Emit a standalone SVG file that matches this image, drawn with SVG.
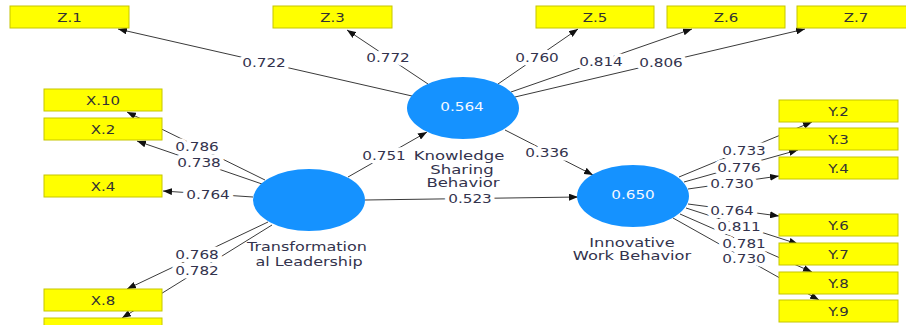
<svg xmlns="http://www.w3.org/2000/svg" width="906" height="325" viewBox="0 0 906 325">
<style>
.bg{fill:#fff}
.box{fill:#ffff00;stroke:#c6c600;stroke-width:1}
.lv{fill:#1592ff}
.ln{stroke:#3a3a3a;stroke-width:1;fill:none;marker-end:url(#ah)}
text{font-family:"DejaVu Sans","Liberation Sans",sans-serif;font-size:12.5px;text-anchor:middle}
.bt{fill:#333333}
.num{fill:#33334d;stroke:#fff;stroke-width:7;paint-order:stroke;stroke-linejoin:round}
.nl{fill:#33334d}
.ct{fill:#f4f8ff}
</style>
<defs>
<marker id="ah" viewBox="0 0 10 10" refX="10" refY="5" markerWidth="9" markerHeight="7" markerUnits="userSpaceOnUse" orient="auto" preserveAspectRatio="none">
<path d="M0,0 L10,5 L0,10 z" fill="#111"/>
</marker>
</defs>
<rect class="bg" x="0" y="0" width="906" height="325"/>

<g id="connectors">
<line class="ln" x1="412" y1="96" x2="118" y2="29"/>
<line class="ln" x1="428" y1="84" x2="347" y2="30"/>
<line class="ln" x1="498" y1="84" x2="578" y2="29"/>
<line class="ln" x1="511" y1="92" x2="692" y2="29"/>
<line class="ln" x1="515" y1="97" x2="805" y2="29"/>
<line class="ln" x1="265" y1="180" x2="127" y2="112"/>
<line class="ln" x1="262" y1="184" x2="137" y2="141"/>
<line class="ln" x1="253" y1="197" x2="163" y2="191"/>
<line class="ln" x1="268" y1="222" x2="127" y2="289"/>
<line class="ln" x1="272" y1="225" x2="122" y2="318"/>
<line class="ln" x1="348" y1="177" x2="427" y2="132"/>
<line class="ln" x1="365" y1="200" x2="578" y2="197"/>
<line class="ln" x1="505" y1="130" x2="593" y2="175"/>
<line class="ln" x1="679" y1="177" x2="812" y2="122"/>
<line class="ln" x1="684" y1="182" x2="798" y2="150"/>
<line class="ln" x1="688" y1="189" x2="779" y2="176"/>
<line class="ln" x1="688" y1="204" x2="779" y2="216"/>
<line class="ln" x1="686" y1="208" x2="798" y2="244"/>
<line class="ln" x1="680" y1="214" x2="812" y2="272"/>
<line class="ln" x1="673" y1="218" x2="819" y2="300"/>
<g id="loadings">
<text class="num" transform="matrix(1.22 0 0 1 264 66.5)">0.722</text>
<text class="num" transform="matrix(1.22 0 0 1 388 61.5)">0.772</text>
<text class="num" transform="matrix(1.22 0 0 1 537 61.5)">0.760</text>
<text class="num" transform="matrix(1.22 0 0 1 601 65.5)">0.814</text>
<text class="num" transform="matrix(1.22 0 0 1 661 66.5)">0.806</text>
<text class="num" transform="matrix(1.22 0 0 1 197 150.5)">0.786</text>
<text class="num" transform="matrix(1.22 0 0 1 199 166.5)">0.738</text>
<text class="num" transform="matrix(1.22 0 0 1 208 198.5)">0.764</text>
<text class="num" transform="matrix(1.22 0 0 1 197 258.5)">0.768</text>
<text class="num" transform="matrix(1.22 0 0 1 197 274.5)">0.782</text>
<text class="num" transform="matrix(1.22 0 0 1 384 159.5)">0.751</text>
<text class="num" transform="matrix(1.22 0 0 1 470 202.5)">0.523</text>
<text class="num" transform="matrix(1.22 0 0 1 547 156.5)">0.336</text>
<text class="num" transform="matrix(1.22 0 0 1 744 154.5)">0.733</text>
<text class="num" transform="matrix(1.22 0 0 1 739 171.5)">0.776</text>
<text class="num" transform="matrix(1.22 0 0 1 732 187.5)">0.730</text>
<text class="num" transform="matrix(1.22 0 0 1 732 214.5)">0.764</text>
<text class="num" transform="matrix(1.22 0 0 1 739 230.5)">0.811</text>
<text class="num" transform="matrix(1.22 0 0 1 744 247.5)">0.781</text>
<text class="num" transform="matrix(1.22 0 0 1 744 262.5)">0.730</text>
</g>
</g>

<g id="Z1"><rect class="box" x="10" y="6" width="119" height="22"/><text class="bt" transform="matrix(1.2 0 0 1 69.5 21.5)">Z.1</text></g>
<g id="Z3"><rect class="box" x="273" y="6" width="119" height="22"/><text class="bt" transform="matrix(1.2 0 0 1 332.5 21.5)">Z.3</text></g>
<g id="Z5"><rect class="box" x="536" y="6" width="118" height="22"/><text class="bt" transform="matrix(1.2 0 0 1 595 21.5)">Z.5</text></g>
<g id="Z6"><rect class="box" x="667" y="6" width="118" height="22"/><text class="bt" transform="matrix(1.2 0 0 1 726 21.5)">Z.6</text></g>
<g id="Z7"><rect class="box" x="797" y="6" width="118" height="22"/><text class="bt" transform="matrix(1.2 0 0 1 856 21.5)">Z.7</text></g>

<g id="X10"><rect class="box" x="44" y="89" width="118" height="22"/><text class="bt" transform="matrix(1.2 0 0 1 103 104.5)">X.10</text></g>
<g id="X2"><rect class="box" x="44" y="118" width="118" height="22"/><text class="bt" transform="matrix(1.2 0 0 1 103 133.5)">X.2</text></g>
<g id="X4"><rect class="box" x="44" y="175" width="118" height="22"/><text class="bt" transform="matrix(1.2 0 0 1 103 190.5)">X.4</text></g>
<g id="X8"><rect class="box" x="44" y="289" width="118" height="22"/><text class="bt" transform="matrix(1.2 0 0 1 103 304.5)">X.8</text></g>
<g id="X9"><rect class="box" x="44" y="318" width="118" height="22"/></g>

<g id="Y2"><rect class="box" x="779" y="100" width="119" height="22"/><text class="bt" transform="matrix(1.2 0 0 1 838.5 115.5)">Y.2</text></g>
<g id="Y3"><rect class="box" x="779" y="128" width="119" height="22"/><text class="bt" transform="matrix(1.2 0 0 1 838.5 143.5)">Y.3</text></g>
<g id="Y4"><rect class="box" x="779" y="157" width="119" height="22"/><text class="bt" transform="matrix(1.2 0 0 1 838.5 172.5)">Y.4</text></g>
<g id="Y6"><rect class="box" x="779" y="214" width="119" height="22"/><text class="bt" transform="matrix(1.2 0 0 1 838.5 229.5)">Y.6</text></g>
<g id="Y7"><rect class="box" x="779" y="243" width="119" height="22"/><text class="bt" transform="matrix(1.2 0 0 1 838.5 258.5)">Y.7</text></g>
<g id="Y8"><rect class="box" x="779" y="272" width="119" height="22"/><text class="bt" transform="matrix(1.2 0 0 1 838.5 287.5)">Y.8</text></g>
<g id="Y9"><rect class="box" x="779" y="300" width="119" height="22"/><text class="bt" transform="matrix(1.2 0 0 1 838.5 315.5)">Y.9</text></g>

<g id="TL">
<ellipse class="lv" cx="309" cy="200" rx="56" ry="31"/>
<text class="nl" transform="matrix(1.28 0 0 1 307 250.5)">Transformation</text>
<text class="nl" transform="matrix(1.28 0 0 1 309 265.5)">al Leadership</text>
</g>
<g id="KSB">
<ellipse class="lv" cx="463" cy="108" rx="56" ry="31"/>
<text class="ct" transform="matrix(1.22 0 0 1 462 110.5)">0.564</text>
<text class="nl" transform="matrix(1.32 0 0 1 459 159.5)">Knowledge</text>
<text class="nl" transform="matrix(1.32 0 0 1 462 173.5)">Sharing</text>
<text class="nl" transform="matrix(1.32 0 0 1 463 186.5)">Behavior</text>
</g>
<g id="IWB">
<ellipse class="lv" cx="633" cy="196" rx="56" ry="31"/>
<text class="ct" transform="matrix(1.22 0 0 1 633 198.5)">0.650</text>
<text class="nl" transform="matrix(1.3 0 0 1 632 246.5)">Innovative</text>
<text class="nl" transform="matrix(1.3 0 0 1 632 259.5)">Work Behavior</text>
</g>
</svg>
